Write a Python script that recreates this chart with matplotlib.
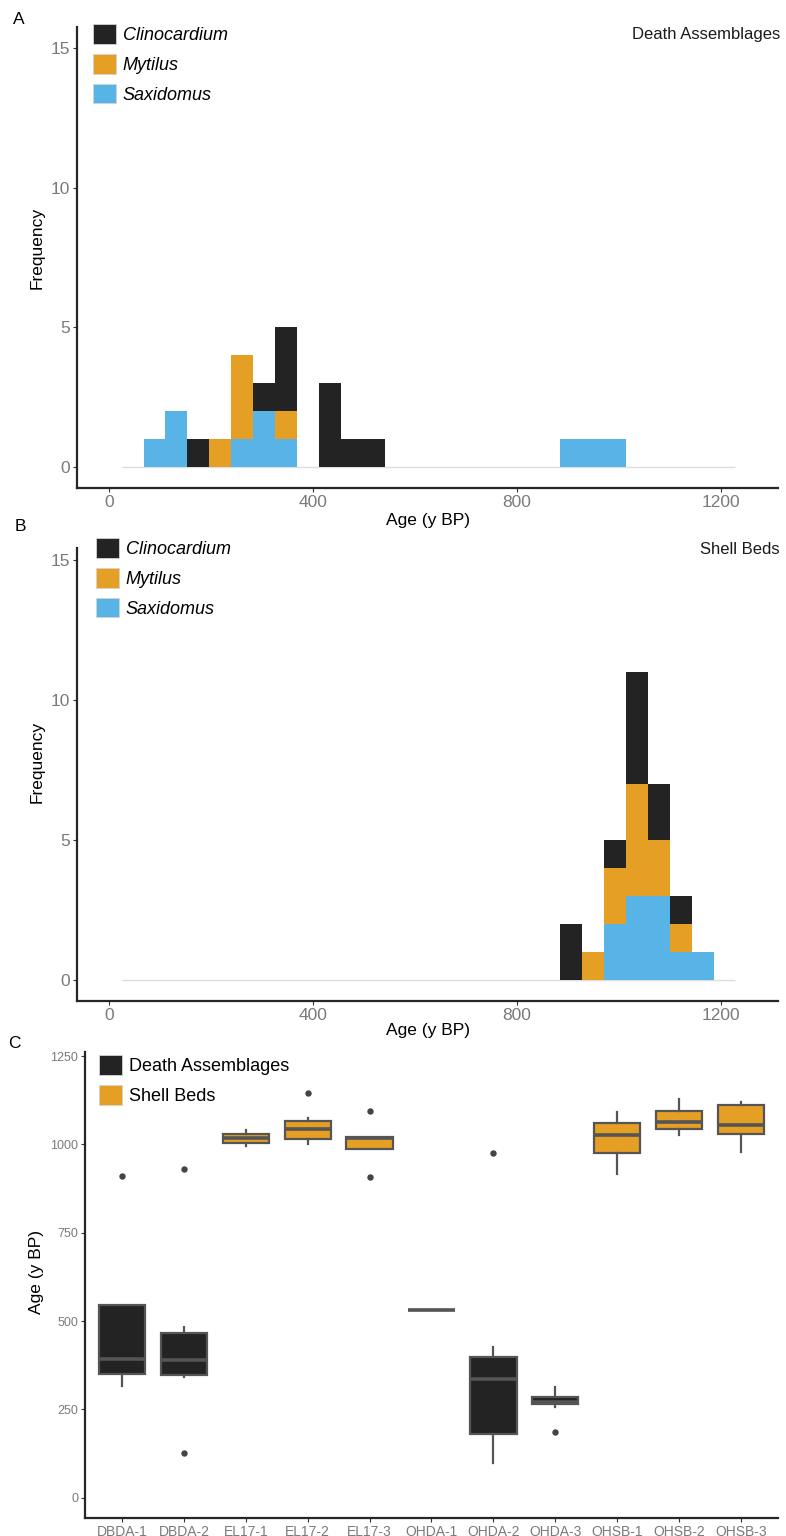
import numpy as np
import matplotlib
matplotlib.use("Agg")
import matplotlib.pyplot as plt
from matplotlib.patches import Patch

plt.rcParams['font.family'] = ['Liberation Sans', 'DejaVu Sans']

# ---------------------------------------------------------------- data
SPECIES = ["Clinocardium", "Mytilus", "Saxidomus"]
SPECIES_COLORS = {"Clinocardium": "#232323", "Mytilus": "#E69F25", "Saxidomus": "#58B3E6"}

# histogram bins (age, y BP)
BIN_START = 25.0
BIN_WIDTH = 43.0
N_BINS = 28

# counts per bin, death assemblages
da_clinocardium = [0, 0, 0, 1, 0, 0, 1, 3, 0, 3, 1, 1, 0, 0, 0, 0, 0, 0, 0, 0, 0, 0, 0, 0, 0, 0, 0, 0]
da_mytilus      = [0, 0, 0, 0, 1, 3, 0, 1, 0, 0, 0, 0, 0, 0, 0, 0, 0, 0, 0, 0, 0, 0, 0, 0, 0, 0, 0, 0]
da_saxidomus    = [0, 1, 2, 0, 0, 1, 2, 1, 0, 0, 0, 0, 0, 0, 0, 0, 0, 0, 0, 0, 1, 1, 1, 0, 0, 0, 0, 0]

# counts per bin, shell beds
sb_clinocardium = [0, 0, 0, 0, 0, 0, 0, 0, 0, 0, 0, 0, 0, 0, 0, 0, 0, 0, 0, 0, 2, 0, 1, 4, 2, 1, 0, 0]
sb_mytilus      = [0, 0, 0, 0, 0, 0, 0, 0, 0, 0, 0, 0, 0, 0, 0, 0, 0, 0, 0, 0, 0, 1, 2, 4, 2, 1, 0, 0]
sb_saxidomus    = [0, 0, 0, 0, 0, 0, 0, 0, 0, 0, 0, 0, 0, 0, 0, 0, 0, 0, 0, 0, 0, 0, 2, 3, 3, 1, 1, 0]

# boxplot summary per site
sites = ["DBDA-1", "DBDA-2", "EL17-1", "EL17-2", "EL17-3", "OHDA-1",
         "OHDA-2", "OHDA-3", "OHSB-1", "OHSB-2", "OHSB-3"]
site_group = ["Death Assemblages", "Death Assemblages", "Shell Beds", "Shell Beds", "Shell Beds",
              "Death Assemblages", "Death Assemblages", "Death Assemblages",
              "Shell Beds", "Shell Beds", "Shell Beds"]
whisker_low  = [317, 340, 997, 1002, 988, 531, 97, 257, 917, 1028, 978]
q1           = [349, 346, 1005, 1016, 988, 531, 179, 264, 977, 1045, 1029]
median       = [391, 389, 1019, 1045, 1018, 531, 337, 271, 1026, 1063, 1056]
q3           = [546, 465, 1031, 1066, 1022, 531, 397, 286, 1062, 1096, 1111]
whisker_high = [546, 482, 1042, 1075, 1022, 531, 425, 312, 1092, 1130, 1121]
outliers     = [[911], [932, 126], [], [1147], [1096, 907], [], [976], [186], [], [], []]

GROUPS = ["Death Assemblages", "Shell Beds"]
GROUP_COLORS = {"Death Assemblages": "#232323", "Shell Beds": "#E69F25"}

# ---------------------------------------------------------------- layout helpers
W, H = 786, 1536
fig = plt.figure(figsize=(W / 100, H / 100), dpi=100)
fig.patch.set_facecolor("white")


def axes_px(left, top, right, bottom):
    return fig.add_axes([left / W, 1 - bottom / H, (right - left) / W, (bottom - top) / H])


def ftext(x, y, s, **kw):
    fig.text(x / W, 1 - y / H, s, **kw)


TICK_GREY = "#7a7a7a"
SPINE = "#262626"
LEGEND_KW = dict(loc="upper left", frameon=False, handlelength=1.3, handleheight=1.3,
                 handletextpad=0.35, labelspacing=0.55, borderaxespad=0.0, borderpad=0.0)


def style_axes(ax, tick_size):
    for side in ("top", "right"):
        ax.spines[side].set_visible(False)
    for side in ("left", "bottom"):
        ax.spines[side].set_color(SPINE)
        ax.spines[side].set_linewidth(1.6)
    ax.tick_params(axis="both", colors="#333333", length=3, width=0.8,
                   labelcolor=TICK_GREY, labelsize=tick_size, pad=2)


def legend_px(ax, handles, labels, x, y, **prop):
    ax.legend(handles, labels, bbox_to_anchor=(x / W, 1 - y / H),
              bbox_transform=fig.transFigure, prop=prop, **LEGEND_KW)


def draw_hist(ax, clin, myt, sax, title, ylim_top, legend_xy, title_y):
    edges = BIN_START + BIN_WIDTH * np.arange(N_BINS)
    # empty bins show as a faint zero line across the binned range
    ax.hlines(0, edges[0], edges[-1] + BIN_WIDTH, color="#dedede", linewidth=1.0, zorder=1)
    bottom = np.zeros(N_BINS)
    for name, counts in (("Saxidomus", sax), ("Mytilus", myt), ("Clinocardium", clin)):
        counts = np.asarray(counts, dtype=float)
        ax.bar(edges, counts, width=BIN_WIDTH, bottom=bottom, align="edge",
               color=SPECIES_COLORS[name], linewidth=0, zorder=2)
        bottom += counts
    ax.set_xlim(-62.5, 1312.5)
    ax.set_ylim(-0.75, ylim_top)
    ax.set_xticks([0, 400, 800, 1200])
    ax.set_yticks([0, 5, 10, 15])
    style_axes(ax, 12.5)
    handles = [Patch(facecolor=SPECIES_COLORS[s], edgecolor="#d4d4d4", linewidth=0.6) for s in SPECIES]
    legend_px(ax, handles, SPECIES, legend_xy[0], legend_xy[1], style="italic", size=13)
    ftext(780, title_y, title, ha="right", va="center", fontsize=12, color="#1a1a1a")


# ---------------------------------------------------------------- panel A
axA = axes_px(77, 27, 778, 488)
draw_hist(axA, da_clinocardium, da_mytilus, da_saxidomus, "Death Assemblages", 15.75,
          (93, 24), 35)

# ---------------------------------------------------------------- panel B
axB = axes_px(77, 548, 778, 1001)
draw_hist(axB, sb_clinocardium, sb_mytilus, sb_saxidomus, "Shell Beds", 15.43,
          (96, 538), 549)

# ---------------------------------------------------------------- panel C
axC = axes_px(85, 1052, 778, 1518)
stats = []
for i in range(len(sites)):
    stats.append(dict(med=median[i], q1=q1[i], q3=q3[i], whislo=whisker_low[i],
                      whishi=whisker_high[i], fliers=outliers[i], label=sites[i]))
positions = np.arange(1, len(sites) + 1)
bp = axC.bxp(stats, positions=positions, widths=0.75, patch_artist=True, showcaps=False,
             boxprops=dict(edgecolor="#555555", linewidth=1.6),
             medianprops=dict(color="#555555", linewidth=2.6, solid_capstyle="butt"),
             whiskerprops=dict(color="#555555", linewidth=1.6),
             flierprops=dict(marker="o", markersize=3.6, markerfacecolor="#444444",
                             markeredgecolor="#444444"))
for patch, grp in zip(bp["boxes"], site_group):
    patch.set_facecolor(GROUP_COLORS[grp])
axC.set_xlim(0.4, len(sites) + 0.6)
axC.set_ylim(-58, 1262)
axC.set_yticks([0, 250, 500, 750, 1000, 1250])
axC.set_xticks(positions)
axC.set_xticklabels(sites)
style_axes(axC, 10)
axC.tick_params(axis="y", labelsize=9)
handlesC = [Patch(facecolor=GROUP_COLORS[g], edgecolor="#d4d4d4", linewidth=0.6) for g in GROUPS]
legend_px(axC, handlesC, GROUPS, 99, 1055, size=13)

# ---------------------------------------------------------------- labels
ftext(19, 19, "A", ha="center", va="center", fontsize=12.5)
ftext(20, 527, "B", ha="center", va="center", fontsize=12.5)
ftext(14, 1043, "C", ha="center", va="center", fontsize=12.5)

ftext(37, 248, "Frequency", rotation=90, ha="center", va="center", fontsize=12.5)
ftext(37, 762, "Frequency", rotation=90, ha="center", va="center", fontsize=12.5)
ftext(37, 1272, "Age (y BP)", rotation=90, ha="center", va="center", fontsize=12.5)

ftext(428, 521, "Age (y BP)", ha="center", va="center", fontsize=12.5)
ftext(428, 1031, "Age (y BP)", ha="center", va="center", fontsize=12.5)

fig.savefig("out.png", dpi=100, facecolor="white")
